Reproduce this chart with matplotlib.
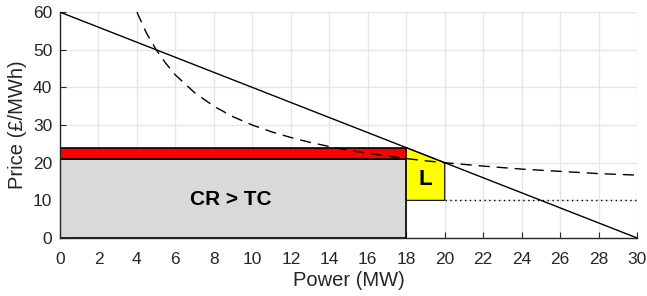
import matplotlib
matplotlib.use("Agg")
import matplotlib.pyplot as plt
from matplotlib.patches import Rectangle, Polygon

plt.rcParams['font.family'] = ['Liberation Sans', 'DejaVu Sans']

# Data
demand_x = [0, 30]
demand_y = [60, 0]
ac_x = [4.0, 4.5, 5, 5.5, 6, 7, 8, 9, 10, 11, 12, 13, 14, 15, 16, 17, 18, 19, 20, 22, 24, 26, 28, 30]
ac_y = [60.0, 54.4, 50.0, 46.4, 43.3, 38.6, 35.0, 32.2, 30.0, 28.2, 26.7, 25.4, 24.3, 23.3, 22.5,
        21.8, 21.1, 20.5, 20.0, 19.1, 18.3, 17.7, 17.1, 16.7]
mc_x = [20, 30]
mc_y = [10, 10]
q_produced = 18
price_at_q = 24
ac_at_q = 21.1
q_opt = 20
p_opt = 20
mc_level = 10

fig = plt.figure(figsize=(6.47, 2.96), dpi=100)
ax = fig.add_axes([0.0927, 0.196, 0.892, 0.763])

ax.add_patch(Rectangle((0, 0), q_produced, ac_at_q, facecolor='#d9d9d9', edgecolor='black', lw=1.2, zorder=2))
ax.add_patch(Rectangle((0, ac_at_q), q_produced, price_at_q - ac_at_q, facecolor='#ff0000', edgecolor='black', lw=1.2, zorder=2))
ax.add_patch(Polygon([(q_produced, mc_level), (q_opt, mc_level), (q_opt, p_opt), (q_produced, price_at_q)],
                     closed=True, facecolor='#ffff00', edgecolor='black', lw=0.8, zorder=2))

ax.plot(demand_x, demand_y, color='black', lw=1.0, zorder=3)
ax.plot(ac_x, ac_y, color='black', lw=1.0, ls=(0, (8, 5)), zorder=3, clip_on=True)
ax.plot(mc_x, mc_y, color='black', lw=1.0, ls=(0, (1, 2.5)), zorder=3)

ax.text(8.9, 10.3, 'CR > TC', ha='center', va='center', fontsize=15, fontweight='bold', zorder=4)
ax.text(19, 15.6, 'L', ha='center', va='center', fontsize=16, fontweight='bold', zorder=4)

ax.set_xlim(0, 30)
ax.set_ylim(0, 60)
ax.set_xticks(range(0, 31, 2))
ax.set_yticks(range(0, 61, 10))
ax.grid(True, color='#e6e6e6', lw=1.0, zorder=0)
ax.set_axisbelow(True)
for s in ['top', 'right']:
    ax.spines[s].set_visible(False)
for s in ['left', 'bottom']:
    ax.spines[s].set_color('#262626')
    ax.spines[s].set_linewidth(1.0)
ax.tick_params(direction='in', length=4, colors='#262626', labelsize=12.5, labelcolor='#262626')
ax.tick_params(axis='x', pad=10)
ax.tick_params(axis='y', pad=5.5)
ax.set_xlabel('Power (MW)', fontsize=14.5, color='#262626', labelpad=3)
ax.set_ylabel('Price (£/MWh)', fontsize=14.5, color='#262626', labelpad=4.5)

fig.savefig('out.png', dpi=100)
